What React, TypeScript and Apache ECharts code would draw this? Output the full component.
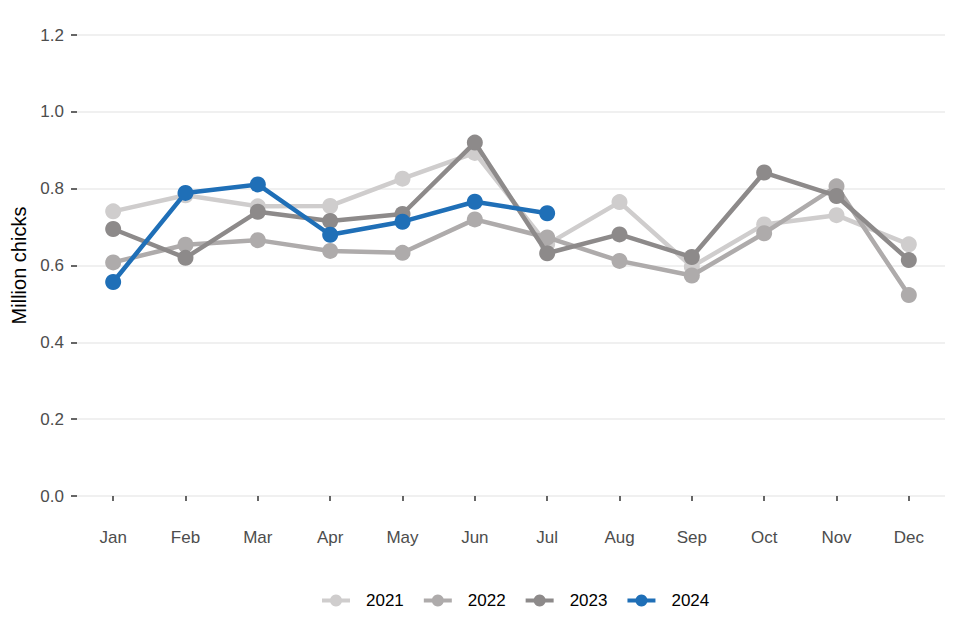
import React, { useEffect, useRef } from "react";
import * as echarts from "echarts";

const months = ["Jan", "Feb", "Mar", "Apr", "May", "Jun", "Jul", "Aug", "Sep", "Oct", "Nov", "Dec"];
const y2021 = [0.741, 0.783, 0.754, 0.755, 0.826, 0.893, 0.655, 0.765, 0.597, 0.707, 0.731, 0.655];
const y2022 = [0.608, 0.654, 0.666, 0.638, 0.633, 0.72, 0.673, 0.612, 0.574, 0.684, 0.806, 0.523];
const y2023 = [0.695, 0.62, 0.74, 0.716, 0.734, 0.92, 0.632, 0.681, 0.622, 0.842, 0.781, 0.614];
const y2024 = [0.557, 0.789, 0.811, 0.68, 0.714, 0.766, 0.736];
const seriesNames = ["2021", "2022", "2023", "2024"];
const seriesColors = ["#cfcdcd", "#aeabab", "#8d8a8a", "#1f6fb7"];
const yTicks = [0, 0.2, 0.4, 0.6, 0.8, 1.0, 1.2];

const FONT = "'Liberation Sans', Arial, sans-serif";

export default function App() {
  const ref = useRef<HTMLDivElement>(null);
  useEffect(() => {
    if (!ref.current) return;
    const chart = echarts.init(ref.current, undefined, { renderer: "svg" });
    const data = [y2021, y2022, y2023, y2024];
    chart.setOption({
      animation: false,
      textStyle: { fontFamily: FONT },
      grid: { left: 77, right: 15, top: 35, bottom: 144 },
      legend: {
        top: 587,
        left: 315,
        itemWidth: 28,
        itemHeight: 15,
        itemGap: 18,
        lineStyle: { width: 4 },
        textStyle: { fontSize: 17, color: "#000", fontFamily: FONT, padding: [0, 0, 0, 11] },
        data: seriesNames,
      },
      xAxis: {
        type: "category",
        data: months,
        boundaryGap: true,
        offset: 23,
        axisLine: { show: false },
        axisTick: { show: true, alignWithLabel: true, length: 5, lineStyle: { color: "#333", width: 1.5 } },
        axisLabel: { color: "#4d4d4d", fontSize: 17, margin: 10, fontFamily: FONT },
        splitLine: { show: false },
      },
      yAxis: {
        type: "value",
        min: yTicks[0],
        max: yTicks[yTicks.length - 1],
        interval: 0.2,
        name: "Million chicks",
        nameLocation: "middle",
        nameGap: 48,
        nameTextStyle: { fontSize: 20, color: "#000", fontFamily: FONT },
        axisLine: { show: false },
        axisTick: { show: true, length: 6, lineStyle: { color: "#333", width: 1.5 } },
        axisLabel: {
          color: "#4d4d4d",
          fontSize: 17,
          margin: 13,
          fontFamily: FONT,
          formatter: (v: number) => v.toFixed(1),
        },
        splitLine: { show: true, lineStyle: { color: "#ebebeb", width: 1.5 } },
      },
      series: seriesNames.map((name, i) => ({
        name,
        type: "line",
        data: data[i],
        symbol: "circle",
        symbolSize: 16,
        showSymbol: true,
        lineStyle: { color: seriesColors[i], width: 4.5 },
        itemStyle: { color: seriesColors[i] },
        z: 2 + i,
      })),
    });
    return () => chart.dispose();
  }, []);
  return <div ref={ref} style={{ position: "absolute", left: 0, top: 0, width: 960, height: 640 }} />;
}
